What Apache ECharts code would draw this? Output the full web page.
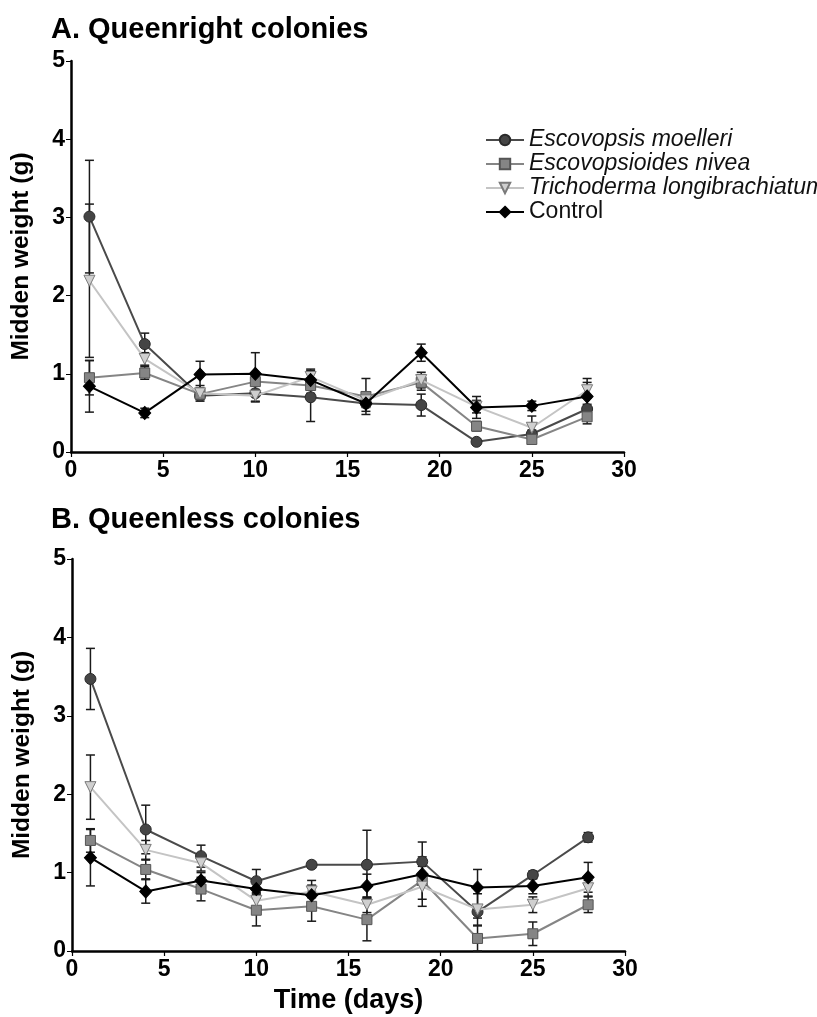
<!DOCTYPE html>
<html>
<head>
<meta charset="utf-8">
<script src="https://cdn.jsdelivr.net/npm/echarts@6/dist/echarts.min.js"></script>
<style>
  html, body { margin: 0; padding: 0; background: #fff; }
  #chart { width: 817px; height: 1017px; }
</style>
</head>
<body>
<div id="chart"></div>
<script>
// sampling days
const days = [1, 4, 7, 10, 13, 16, 19, 22, 25, 28];

// A. Queenright colonies - means
const moelleriA = [3.01, 1.38, 0.72, 0.75, 0.70, 0.62, 0.60, 0.13, 0.23, 0.55];
const niveaA    = [0.95, 1.01, 0.74, 0.90, 0.85, 0.71, 0.89, 0.33, 0.16, 0.45];
const trichoA   = [2.19, 1.19, 0.75, 0.72, 0.96, 0.66, 0.92, 0.58, 0.31, 0.79];
const controlA  = [0.84, 0.50, 0.99, 1.00, 0.92, 0.62, 1.27, 0.57, 0.59, 0.71];
// A - standard errors
const moelleriErrA = [0.72, 0.14, 0.05, 0.10, 0.31, 0.05, 0.14, 0.04, 0.05, 0.06];
const niveaErrA    = [0.22, 0.08, 0.05, 0.05, 0.10, 0.23, 0.10, 0.06, 0.05, 0.09];
const trichoErrA   = [0.98, 0.08, 0.10, 0.08, 0.10, 0.06, 0.10, 0.08, 0.15, 0.10];
const controlErrA  = [0.33, 0.06, 0.17, 0.27, 0.12, 0.10, 0.11, 0.14, 0.06, 0.23];

// B. Queenless colonies - means
const moelleriB = [3.47, 1.55, 1.21, 0.89, 1.10, 1.10, 1.14, 0.50, 0.97, 1.45];
const niveaB    = [1.41, 1.04, 0.79, 0.52, 0.57, 0.40, 0.90, 0.16, 0.22, 0.59];
const trichoB   = [2.09, 1.29, 1.12, 0.64, 0.76, 0.59, 0.82, 0.53, 0.59, 0.80];
const controlB  = [1.19, 0.76, 0.90, 0.79, 0.71, 0.83, 0.98, 0.81, 0.83, 0.94];
// B - standard errors
const moelleriErrB = [0.39, 0.31, 0.14, 0.15, 0.04, 0.44, 0.06, 0.08, 0.05, 0.06];
const niveaErrB    = [0.15, 0.12, 0.15, 0.20, 0.19, 0.27, 0.06, 0.16, 0.15, 0.10];
const trichoErrB   = [0.41, 0.12, 0.10, 0.10, 0.08, 0.10, 0.16, 0.20, 0.10, 0.10];
const controlErrB  = [0.36, 0.15, 0.10, 0.12, 0.19, 0.15, 0.41, 0.23, 0.10, 0.19];

const names = ['Escovopsis moelleri', 'Escovopsioides nivea', 'Trichoderma longibrachiatum', 'Control'];
const yTicks = [0, 1, 2, 3, 4, 5];
const xTicks = [0, 5, 10, 15, 20, 25, 30];

const FONT = '"Liberation Sans", Arial, sans-serif';

// look of each group
const looks = [
  { symbol: 'circle', size: 11, rotate: 0, line: '#4a4a4a', fill: '#454545', border: '#2a2a2a' },
  { symbol: 'rect', size: 10, rotate: 0, line: '#858585', fill: '#858585', border: '#555' },
  { symbol: 'triangle', size: 11, rotate: 180, line: '#c4c4c4', fill: '#cfcfcf', border: '#7a7a7a' },
  { symbol: 'diamond', size: [12, 13], rotate: 0, line: '#000', fill: '#000', border: '#000' }
];

const pair = (ys) => days.map((d, i) => [d, ys[i]]);
const bars = (ys, es) => days.map((d, i) => [d, Math.max(0, ys[i] - es[i]), ys[i] + es[i]]);

// draws one error bar with caps
const renderError = (params, api) => {
  const x = api.value(0);
  const top = api.coord([x, api.value(2)]);
  const bot = api.coord([x, api.value(1)]);
  const w = 4.5;
  const style = { stroke: '#1a1a1a', lineWidth: 1.5 };
  return {
    type: 'group',
    children: [
      { type: 'line', shape: { x1: top[0], y1: top[1], x2: bot[0], y2: bot[1] }, style },
      { type: 'line', shape: { x1: top[0] - w, y1: top[1], x2: top[0] + w, y2: top[1] }, style },
      { type: 'line', shape: { x1: bot[0] - w, y1: bot[1], x2: bot[0] + w, y2: bot[1] }, style }
    ]
  };
};

const makeSeries = (panel, means, errs) => {
  const out = [];
  means.forEach((m, k) => {
    out.push({
      type: 'custom',
      name: names[k] + ' SE',
      xAxisIndex: panel, yAxisIndex: panel,
      renderItem: renderError,
      encode: { x: 0, y: [1, 2] },
      data: bars(m, errs[k]),
      z: 1,
      silent: true
    });
  });
  means.forEach((m, k) => {
    const lk = looks[k];
    out.push({
      type: 'line',
      name: names[k],
      xAxisIndex: panel, yAxisIndex: panel,
      data: pair(m),
      symbol: lk.symbol,
      symbolSize: lk.size,
      symbolRotate: lk.rotate,
      showAllSymbol: true,
      lineStyle: { color: lk.line, width: 2 },
      itemStyle: { color: lk.fill, borderColor: lk.border, borderWidth: 1 },
      z: 2 + k
    });
  });
  return out;
};

const xAxisBase = (idx, withName) => ({
  type: 'value',
  gridIndex: idx,
  min: 0, max: 30, interval: 5,
  name: withName ? 'Time (days)' : '',
  nameLocation: 'middle',
  nameGap: 36,
  nameTextStyle: { fontFamily: FONT, fontWeight: 'bold', fontSize: 27, color: '#000' },
  axisLine: { lineStyle: { color: '#000', width: 2.5 } },
  axisTick: { length: 5, lineStyle: { color: '#000', width: 1.2 } },
  axisLabel: { fontFamily: FONT, fontWeight: 'bold', fontSize: 23, color: '#000', margin: 7,
    formatter: (v) => xTicks.includes(v) ? String(v) : '' },
  splitLine: { show: false }
});

const yAxisBase = (idx) => ({
  type: 'value',
  gridIndex: idx,
  min: 0, max: 5, interval: 1,
  name: 'Midden weight (g)',
  nameLocation: 'middle',
  nameGap: 37,
  nameTextStyle: { fontFamily: FONT, fontWeight: 'bold', fontSize: 24.5, color: '#000' },
  axisLine: { show: true, lineStyle: { color: '#000', width: 2.5 } },
  axisTick: { show: true, length: 5, lineStyle: { color: '#000', width: 1 } },
  axisLabel: { fontFamily: FONT, fontWeight: 'bold', fontSize: 23, color: '#000', margin: 6,
    formatter: (v) => yTicks.includes(v) ? String(v) : '' },
  splitLine: { show: false }
});

const chart = echarts.init(document.getElementById('chart'), null, { renderer: 'canvas' });

chart.setOption({
  animation: false,
  backgroundColor: '#fff',
  title: [
    { text: 'A. Queenright colonies', left: 46, top: 10,
      textStyle: { fontFamily: FONT, fontWeight: 'bold', fontSize: 29, color: '#000' } },
    { text: 'B. Queenless colonies', left: 46, top: 500,
      textStyle: { fontFamily: FONT, fontWeight: 'bold', fontSize: 29, color: '#000' } }
  ],
  legend: {
    data: names,
    orient: 'vertical',
    left: 485,
    top: 128,
    padding: 0,
    itemWidth: 38,
    itemHeight: 13,
    itemGap: 0,
    selectedMode: false,
    lineStyle: { width: 2 },
    textStyle: { fontFamily: FONT, fontSize: 23, color: '#111', lineHeight: 24,
      rich: { i: { fontFamily: FONT, fontSize: 23, fontStyle: 'italic', color: '#111', lineHeight: 24 } } },
    formatter: (n) => n === 'Control' ? n : '{i|' + n + '}'
  },
  grid: [
    { left: 71, top: 61, width: 553, height: 391 },
    { left: 72, top: 559, width: 553, height: 392 }
  ],
  xAxis: [xAxisBase(0, false), xAxisBase(1, true)],
  yAxis: [yAxisBase(0), yAxisBase(1)],
  series: [
    ...makeSeries(0, [moelleriA, niveaA, trichoA, controlA],
      [moelleriErrA, niveaErrA, trichoErrA, controlErrA]),
    ...makeSeries(1, [moelleriB, niveaB, trichoB, controlB],
      [moelleriErrB, niveaErrB, trichoErrB, controlErrB])
  ]
});
</script>
</body>
</html>
